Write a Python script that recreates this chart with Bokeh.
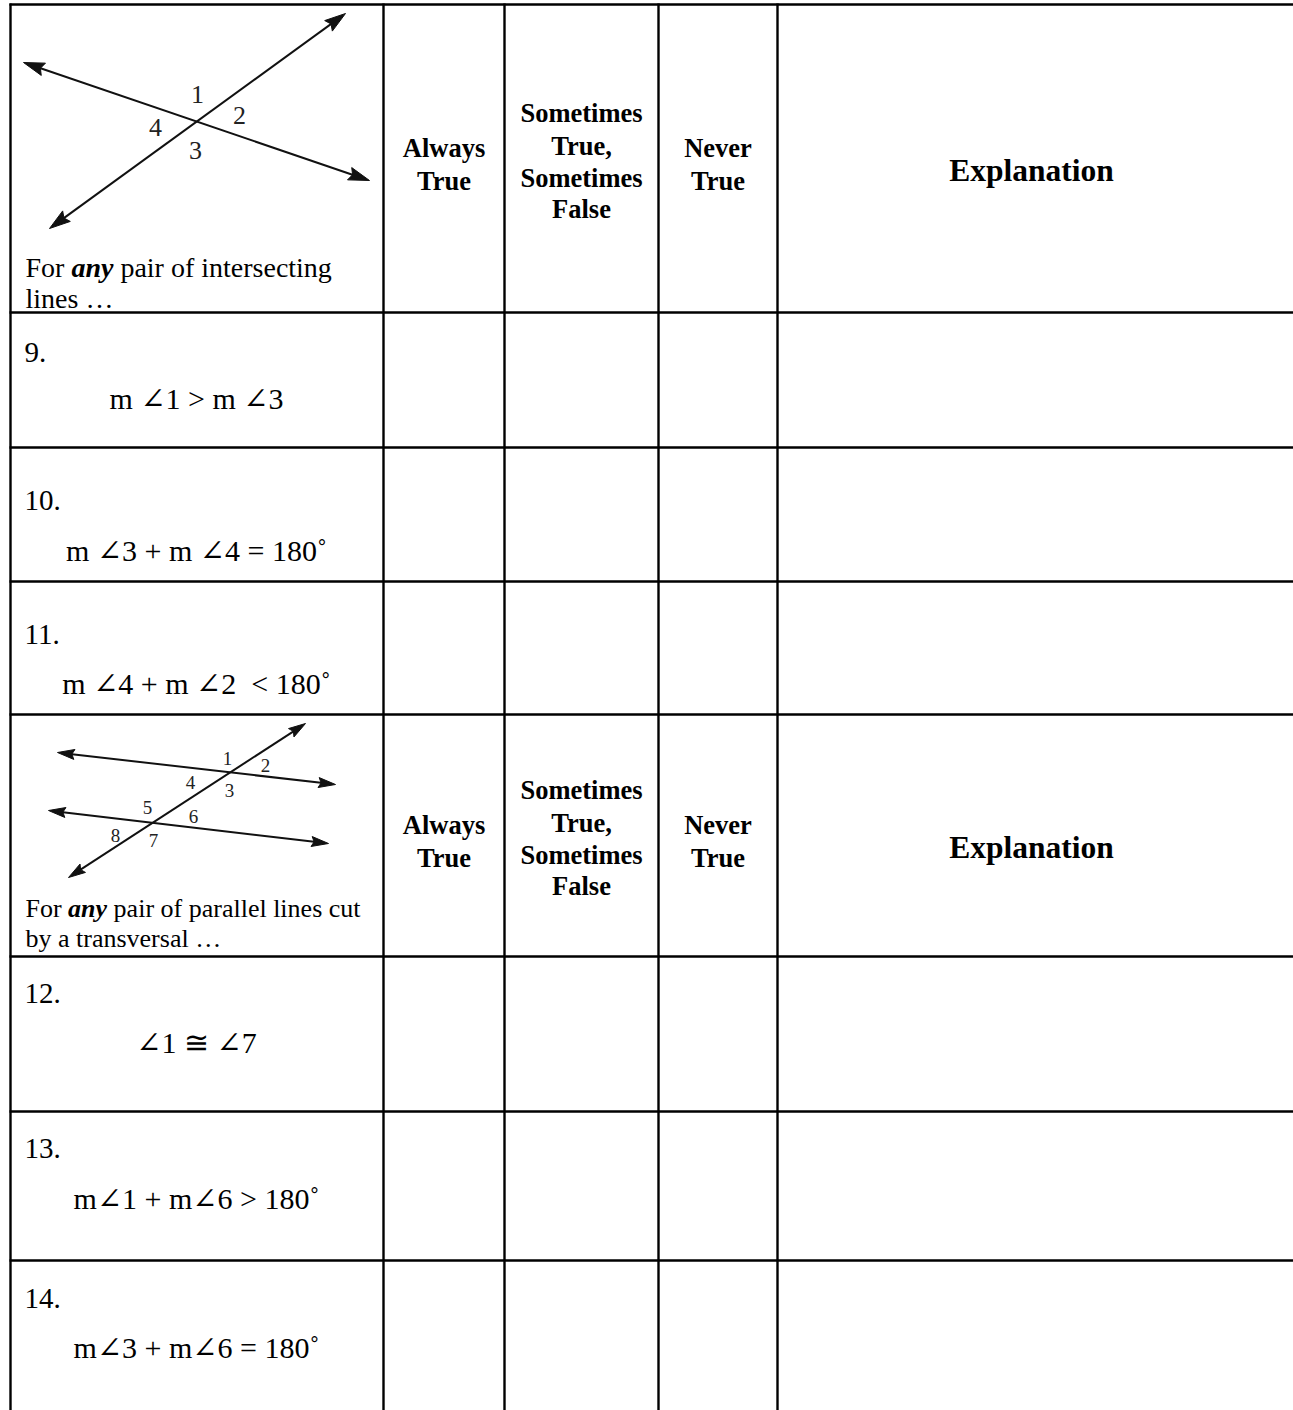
from bokeh.plotting import figure
from bokeh.models import Range1d
from bokeh.embed import file_html
from bokeh.resources import INLINE
from bokeh.core.properties import value
import math

# ---------------- data ----------------
W, H = 1293, 1410          # figure size
OX, OY = 0, 0              # page offset of the figure

# table grid (page-pixel coordinates)
col_edges = [10, 383, 504, 658, 777]
row_edges = [4, 312, 447, 581, 714, 956, 1111, 1260]

# header blocks
header_cols_x = [443.5, 581, 717.5]
header_lines = [["Always", "True"],
                ["Sometimes", "True,", "Sometimes", "False"],
                ["Never", "True"]]
header_baselines = [[147, 180], [112, 145, 177, 208], [147, 180]]
explanation_x = 1031
explanation_baseline = 170
header_block_offsets = [0, 677]

# statement rows
row_numbers = ["9.", "10.", "11.", "12.", "13.", "14."]
row_statements = ["m \u22201 > m \u22203",
                  "m \u22203 + m \u22204 = 180\u02da",
                  "m \u22204 + m \u22202 \u00a0< 180\u02da",
                  "\u22201 \u2245 \u22207",
                  "m\u22201 + m\u22206 > 180\u02da",
                  "m\u22203 + m\u22206 = 180\u02da"]
row_number_baselines = [352, 500, 634, 993, 1148, 1298]
row_statement_baselines = [398, 550, 683, 1042, 1198, 1347]
statement_center_x = 196

# diagram 1: intersecting lines
d1_lines = [((23, 62), (369, 180)), ((49, 228), (345, 13))]
d1_labels = ["1", "2", "4", "3"]
d1_label_x = [197, 239, 155, 195]
d1_label_y = [94, 115, 127, 150]
d1_caption = [("For", "any", "pair of intersecting"), ("lines \u2026",)]
d1_caption_baselines = [267, 298]

# diagram 2: parallel lines cut by a transversal
d2_lines = [((57, 752), (335, 784)), ((48, 810), (328, 843)), ((68, 877), (305, 723))]
d2_labels = ["1", "2", "4", "3", "5", "6", "8", "7"]
d2_label_x = [227, 265, 190, 229, 147, 193, 115, 153]
d2_label_y = [758, 765, 782, 790, 807, 816, 835, 840]
d2_caption = [("For", "any", "pair of parallel lines cut"), ("by a transversal \u2026",)]
d2_caption_baselines = [908, 938]

FONT = "Liberation Serif, DejaVu Serif"

def fx(x):
    return x - OX

def fy(y):
    return y - OY

p = figure(width=W, height=H, x_range=Range1d(0, W), y_range=Range1d(H, 0),
           output_backend="svg", toolbar_location=None, min_border=0)
p.axis.visible = False
p.grid.visible = False
p.outline_line_color = None
p.background_fill_color = "white"
p.border_fill_color = "white"

# ---------------- grid ----------------
hx0, hx1, hy0, hy1 = [], [], [], []
for r in row_edges:
    yy = max(fy(r), 1)
    hx0.append(fx(col_edges[0]) - 1); hx1.append(W + 5)
    hy0.append(yy); hy1.append(yy)
p.segment(x0=hx0, y0=hy0, x1=hx1, y1=hy1, line_color="black", line_width=2.4)
vx, vy0, vy1 = [], [], []
for c in col_edges:
    vx.append(fx(c)); vy0.append(max(fy(row_edges[0]), 1) - 1); vy1.append(H + 5)
p.segment(x0=vx, y0=vy0, x1=vx, y1=vy1, line_color="black", line_width=2.4)

# ---------------- headers ----------------
for off in header_block_offsets:
    xs, ys, ts = [], [], []
    for cx, lines, bls in zip(header_cols_x, header_lines, header_baselines):
        for t, b in zip(lines, bls):
            xs.append(fx(cx)); ys.append(fy(b + off)); ts.append(t)
    p.text(x=xs, y=ys, text=ts, text_font=value(FONT), text_font_size="26.5px",
           text_font_style="bold", text_align="center", text_baseline="alphabetic",
           text_color="black")
    p.text(x=[fx(explanation_x)], y=[fy(explanation_baseline + off)], text=["Explanation"],
           text_font=value(FONT), text_font_size="31.5px", text_font_style="bold",
           text_align="center", text_baseline="alphabetic", text_color="black")

# ---------------- rows ----------------
p.text(x=[fx(24)] * len(row_numbers), y=[fy(b) for b in row_number_baselines], text=row_numbers,
       text_font=value(FONT), text_font_size="29px", text_align="left",
       text_baseline="alphabetic", text_color="black")
p.text(x=[fx(statement_center_x)] * len(row_statements), y=[fy(b) for b in row_statement_baselines],
       text=row_statements, text_font=value(FONT), text_font_size="30px", text_align="center",
       text_baseline="alphabetic", text_color="black")

# ---------------- diagrams ----------------
def draw_arrow_lines(lines, head_len, head_half):
    sx0, sy0, sx1, sy1, pxs, pys = [], [], [], [], [], []
    for (a, b) in lines:
        ax, ay = a; bx, by = b
        L = math.hypot(bx - ax, by - ay)
        ux, uy = (bx - ax) / L, (by - ay) / L
        nx, ny = -uy, ux
        sx0.append(fx(ax + ux * head_len * 0.6)); sy0.append(fy(ay + uy * head_len * 0.6))
        sx1.append(fx(bx - ux * head_len * 0.6)); sy1.append(fy(by - uy * head_len * 0.6))
        for (tx, ty, dx, dy) in [(bx, by, ux, uy), (ax, ay, -ux, -uy)]:
            bcx, bcy = tx - dx * head_len, ty - dy * head_len
            pxs.append([fx(tx), fx(bcx + nx * head_half), fx(bcx + dx * head_len * 0.15), fx(bcx - nx * head_half)])
            pys.append([fy(ty), fy(bcy + ny * head_half), fy(bcy + dy * head_len * 0.15), fy(bcy - ny * head_half)])
    p.segment(x0=sx0, y0=sy0, x1=sx1, y1=sy1, line_color="#111111", line_width=2)
    p.patches(xs=pxs, ys=pys, fill_color="#111111", line_color="#111111", line_width=1)

draw_arrow_lines(d1_lines, 21, 6.5)
draw_arrow_lines(d2_lines, 17, 5)

p.text(x=[fx(v) for v in d1_label_x], y=[fy(v) for v in d1_label_y], text=d1_labels,
       text_font=value(FONT), text_font_size="26px", text_align="center",
       text_baseline="middle", text_color="#222222")
p.text(x=[fx(v) for v in d2_label_x], y=[fy(v) for v in d2_label_y], text=d2_labels,
       text_font=value(FONT), text_font_size="19px", text_align="center",
       text_baseline="middle", text_color="#222222")

def draw_caption(parts_lines, baselines, fs):
    for parts, b in zip(parts_lines, baselines):
        x = 25
        if len(parts) == 1:
            p.text(x=[fx(x)], y=[fy(b)], text=[parts[0]], text_font=value(FONT),
                   text_font_size=f"{fs}px", text_align="left", text_baseline="alphabetic",
                   text_color="black")
            continue
        a, bi, c = parts
        p.text(x=[fx(x)], y=[fy(b)], text=[a], text_font=value(FONT), text_font_size=f"{fs}px",
               text_align="left", text_baseline="alphabetic", text_color="black")
        x += (1.389 + 0.25) * fs
        p.text(x=[fx(x)], y=[fy(b)], text=[bi], text_font=value(FONT), text_font_size=f"{fs}px",
               text_font_style="bold italic", text_align="left", text_baseline="alphabetic",
               text_color="black")
        x += (1.5 + 0.25) * fs
        p.text(x=[fx(x)], y=[fy(b)], text=[c], text_font=value(FONT), text_font_size=f"{fs}px",
               text_align="left", text_baseline="alphabetic", text_color="black")

draw_caption(d1_caption, d1_caption_baselines, 28)
draw_caption(d2_caption, d2_caption_baselines, 26)

open("out.html", "w").write(file_html(p, INLINE))
